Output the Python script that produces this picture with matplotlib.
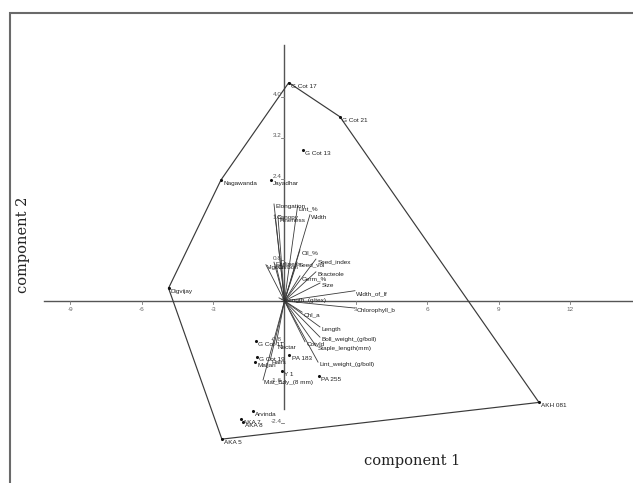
import matplotlib
matplotlib.use("Agg")
import matplotlib.pyplot as plt
from matplotlib.patches import Rectangle

# genotype scores on the first two components
genotypes = ["G Cot 17", "G Cot 21", "G Cot 13", "Nagawanda", "Jayadhar", "Digvijay",
             "G Cot 11", "G Cot 19", "Maljari", "PA 183", "Y 1", "PA 255",
             "Arvinda", "AKA 7", "AKA 8", "AKA 5", "AKH 081"]
geno_x = [0.18, 2.33, 0.79, -2.67, -0.57, -4.87,
          -1.18, -1.16, -1.24, 0.21, -0.10, 1.43,
          -1.33, -1.83, -1.74, -2.63, 10.69]
geno_y = [4.28, 3.61, 2.95, 2.37, 2.37, 0.25,
          -0.78, -1.09, -1.20, -1.06, -1.37, -1.48,
          -2.15, -2.31, -2.37, -2.71, -1.99]

# variable loadings (biplot vectors)
variables = ["Elongation", "Fineness", "Canopy", "Lint_%", "Width",
             "Oil_%", "Seed_vol", "Seed_index", "Vigour", "Earliness", "Carbon",
             "Bracteole", "Germ_%", "Size", "Width_of_lf", "Strength_(g/tex)",
             "Chl_a", "Chlorophyll_b", "Length", "Boll_weight_(g/boll)",
             "Staple_length(mm)", "Cotyld", "Lint_weight_(g/boll)",
             "Mat_Bdy_(8 mm)", "Hairs", "Nectar"]
var_x = [-0.44, -0.27, -0.40, 0.55, 1.07,
         0.65, 0.53, 1.32, -0.78, -0.44, -0.36,
         1.32, 0.65, 1.49, 2.96, -0.23,
         0.74, 2.96, 1.49, 1.49,
         1.32, 0.86, 1.41,
         -0.90, -0.60, -0.36]
var_y = [1.90, 1.63, 1.69, 1.86, 1.69,
         1.00, 0.76, 0.82, 0.71, 0.76, 0.71,
         0.57, 0.49, 0.35, 0.20, 0.06,
         -0.22, -0.14, -0.51, -0.71,
         -0.88, -0.80, -1.20,
         -1.55, -1.16, -0.86]

x_ticks = [-9, -6, -3, 3, 6, 9, 12]
y_ticks = [-2.4, -1.6, -0.8, 0.8, 1.6, 2.4, 3.2, 4.0]


def convex_hull(pts):
    pts = sorted(set(pts))

    def cross(o, a, b):
        return (a[0] - o[0]) * (b[1] - o[1]) - (a[1] - o[1]) * (b[0] - o[0])

    lower, upper = [], []
    for p in pts:
        while len(lower) >= 2 and cross(lower[-2], lower[-1], p) <= 0:
            lower.pop()
        lower.append(p)
    for p in reversed(pts):
        while len(upper) >= 2 and cross(upper[-2], upper[-1], p) <= 0:
            upper.pop()
        upper.append(p)
    return lower[:-1] + upper[:-1]


fig = plt.figure(figsize=(6.33, 4.83), dpi=100)
ax = fig.add_axes([0, 0, 1, 1])
ax.set_xlim(-11.95, 14.64)
ax.set_ylim(-3.57, 5.90)
ax.axis("off")

line_col = "#3a3a3a"
lab_font = dict(family="Liberation Sans", fontsize=4.6, color="#222222")

# axes through the origin
ax.plot([-10.1, 15.0], [0, 0], color="#555555", lw=1.0, zorder=1)
ax.plot([0, 0], [-2.12, 5.02], color="#555555", lw=1.0, zorder=1)
for t in x_ticks:
    ax.plot([t, t], [0, -0.06], color="#777777", lw=0.6)
    ax.text(t, -0.16, f"{t:g}", ha="center", va="center",
            family="Liberation Sans", fontsize=4.6, color="#666666")
for t in y_ticks:
    ax.plot([0, -0.15], [t, t], color="#777777", lw=0.6)
    ax.text(-0.12, t + 0.04, f"{t:.1f}", ha="right", va="center",
            family="Liberation Sans", fontsize=4.6, color="#555555")

# convex hull round the genotypes
hull = convex_hull(list(zip(geno_x, geno_y)))
hull.append(hull[0])
ax.plot([p[0] for p in hull], [p[1] for p in hull], color=line_col, lw=0.85, zorder=2)

# variable vectors from the origin
for name, vx, vy in zip(variables, var_x, var_y):
    ax.plot([0, vx], [0, vy], color=line_col, lw=0.6, zorder=2)
    ax.annotate(name, (vx, vy), xytext=(1, -2), textcoords="offset points",
                ha="left", va="center", **lab_font)

# genotype points
ax.scatter(geno_x, geno_y, s=1.5, color="#111111", zorder=3)
for name, gx, gy in zip(genotypes, geno_x, geno_y):
    ax.annotate(name, (gx, gy), xytext=(1.5, -2.5), textcoords="offset points",
                ha="left", va="center", **lab_font)

# axis titles, placed in pixels from the bottom-left corner
ax.text(412, 483 - 461, "component 1", transform=None, ha="center", va="center",
        family="DejaVu Serif", fontsize=10.5, color="#222222")
ax.text(23, 483 - 245, "component 2", transform=None, ha="center", va="center",
        rotation=90, family="DejaVu Serif", fontsize=10.5, color="#222222")

# outer frame, cut by the right and bottom edges
fig.patches.append(Rectangle((10 / 633, -0.2), 1.2, 0.2 + 1 - 13 / 483,
                             transform=fig.transFigure, fill=False,
                             edgecolor="#6a6a6a", lw=1.5))

fig.savefig("out.png", dpi=100)
